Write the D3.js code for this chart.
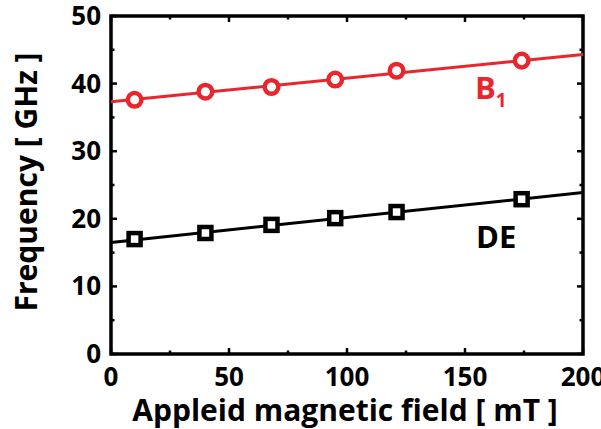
<!DOCTYPE html>
<html>
<head>
<meta charset="utf-8">
<script src="https://d3js.org/d3.v7.min.js"></script>
<style>
  body { margin: 0; background: #fff; }
  svg { display: block; font-family: "Open Sans", Lato, sans-serif; font-weight: bold; }
</style>
</head>
<body>
<script>
// data
var fieldB1 = [10, 40, 68, 95, 121, 174];
var freqB1 = [37.6, 38.8, 39.5, 40.6, 41.9, 43.4];
var fieldDE = [10, 40, 68, 95, 121, 174];
var freqDE = [17.0, 17.9, 19.1, 20.1, 21.0, 22.9];
var fitX = [0, 200];
var fitB1 = [37.3, 44.3];
var fitDE = [16.5, 23.9];
var xTicks = [0, 50, 100, 150, 200];
var yTicks = [0, 10, 20, 30, 40, 50];

var W = 601, H = 429;
var pLeft = 111, pRight = 583, pTop = 16, pBottom = 354;
var red = "#e8262d";

var svg = d3.select("body").append("svg")
  .attr("width", W)
  .attr("height", H);

var x = d3.scaleLinear().domain([0, 200]).range([pLeft, pRight]);
var y = d3.scaleLinear().domain([0, 50]).range([pBottom, pTop]);

// inward ticks on all four sides, majors + minors
function tickAxes() {
  var majorX = xTicks, minorX = d3.range(25, 200, 50);
  var majorY = yTicks, minorY = d3.range(5, 50, 10);
  var g = svg.append("g").attr("stroke", "#000").attr("stroke-width", 2.5);
  [[majorX, 6], [minorX, 3.5]].forEach(function(p) {
    g.selectAll(null).data(p[0]).enter().append("line")
      .attr("x1", function(d) { return x(d); }).attr("x2", function(d) { return x(d); })
      .attr("y1", pBottom).attr("y2", pBottom - p[1]);
    g.selectAll(null).data(p[0]).enter().append("line")
      .attr("x1", function(d) { return x(d); }).attr("x2", function(d) { return x(d); })
      .attr("y1", pTop).attr("y2", pTop + p[1]);
  });
  [[majorY, 6], [minorY, 3.5]].forEach(function(p) {
    g.selectAll(null).data(p[0]).enter().append("line")
      .attr("y1", function(d) { return y(d); }).attr("y2", function(d) { return y(d); })
      .attr("x1", pLeft).attr("x2", pLeft + p[1]);
    g.selectAll(null).data(p[0]).enter().append("line")
      .attr("y1", function(d) { return y(d); }).attr("y2", function(d) { return y(d); })
      .attr("x1", pRight).attr("x2", pRight - p[1]);
  });
}
tickAxes();

svg.append("rect")
  .attr("x", pLeft).attr("y", pTop)
  .attr("width", pRight - pLeft).attr("height", pBottom - pTop)
  .attr("fill", "none").attr("stroke", "#000").attr("stroke-width", 3.5);

// tick labels
svg.selectAll(".xl").data(xTicks).enter().append("text")
  .attr("class", "xl")
  .attr("x", function(d) { return x(d); })
  .attr("y", 386)
  .attr("text-anchor", "middle")
  .style("font-size", "26px")
  .text(function(d) { return d; });

svg.selectAll(".yl").data(yTicks).enter().append("text")
  .attr("class", "yl")
  .attr("x", 101)
  .attr("y", function(d) { return y(d) + 9; })
  .attr("text-anchor", "end")
  .style("font-size", "26px")
  .text(function(d) { return d; });

// axis titles
svg.append("text")
  .attr("x", (pLeft + pRight) / 2 - 2)
  .attr("y", 421)
  .attr("text-anchor", "middle")
  .style("font-size", "30px")
  .text("Appleid magnetic field [ mT ]");

svg.append("text")
  .attr("transform", "translate(37,182) rotate(-90)")
  .attr("text-anchor", "middle")
  .style("font-size", "30px")
  .text("Frequency [ GHz ]");

// fitted lines
var line = d3.line()
  .x(function(d) { return x(d[0]); })
  .y(function(d) { return y(d[1]); });

svg.append("path")
  .datum(d3.zip(fitX, fitB1))
  .attr("d", line)
  .attr("fill", "none").attr("stroke", red).attr("stroke-width", 3);

svg.append("path")
  .datum(d3.zip(fitX, fitDE))
  .attr("d", line)
  .attr("fill", "none").attr("stroke", "#000").attr("stroke-width", 3);

// markers
svg.selectAll(".b1").data(d3.zip(fieldB1, freqB1)).enter().append("circle")
  .attr("class", "b1")
  .attr("cx", function(d) { return x(d[0]); })
  .attr("cy", function(d) { return y(d[1]); })
  .attr("r", 6.8)
  .attr("fill", "#fff").attr("stroke", red).attr("stroke-width", 4.5);

var sq = 12;
svg.selectAll(".de").data(d3.zip(fieldDE, freqDE)).enter().append("rect")
  .attr("class", "de")
  .attr("x", function(d) { return x(d[0]) - sq / 2; })
  .attr("y", function(d) { return y(d[1]) - sq / 2; })
  .attr("width", sq).attr("height", sq)
  .attr("fill", "#fff").attr("stroke", "#000").attr("stroke-width", 4.5);

// series labels
var b1 = svg.append("text")
  .attr("x", 475).attr("y", 99)
  .attr("fill", red)
  .style("font-size", "31px");
b1.append("tspan").text("B");
b1.append("tspan").attr("dy", 8).style("font-size", "19px").text("1");

svg.append("text")
  .attr("x", 476).attr("y", 248)
  .style("font-size", "31px")
  .text("DE");
</script>
</body>
</html>
